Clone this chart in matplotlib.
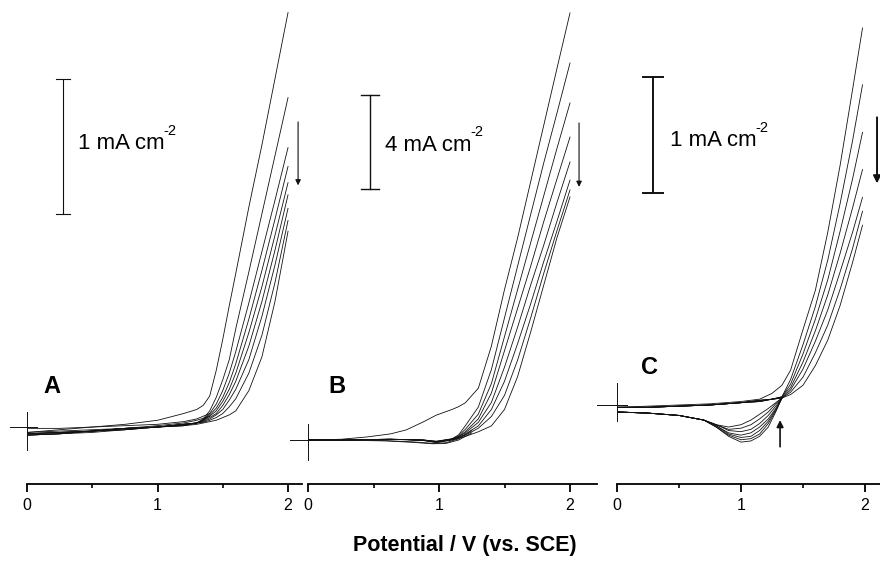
import matplotlib
matplotlib.use("Agg")
import matplotlib.pyplot as plt

plt.rcParams["font.family"] = ["Liberation Sans", "DejaVu Sans"]

# ---- panel A: potential grid (V) and current density (mA cm-2), one row per cycle
E_A = [0, 0.25, 0.5, 0.75, 1.0, 1.2, 1.3, 1.35, 1.4, 1.45, 1.5, 1.55, 1.6, 1.7, 1.8, 1.9, 2.0]
J_A = [
    [-0.04, -0.02, 0.00, 0.02, 0.05, 0.10, 0.13, 0.16, 0.23, 0.42, 0.65, 0.90, 1.14, 1.63, 2.09, 2.58, 3.07],
    [-0.05, -0.04, -0.03, -0.01, 0.00, 0.02, 0.03, 0.06, 0.12, 0.22, 0.35, 0.50, 0.73, 1.15, 1.58, 2.01, 2.44],
    [-0.06, -0.05, -0.03, -0.01, 0.00, 0.02, 0.03, 0.055, 0.10, 0.17, 0.27, 0.40, 0.56, 0.92, 1.30, 1.68, 2.07],
    [-0.05, -0.04, -0.03, -0.01, 0.00, 0.02, 0.03, 0.05, 0.09, 0.14, 0.22, 0.33, 0.47, 0.80, 1.16, 1.54, 1.93],
    [-0.06, -0.05, -0.03, -0.02, 0.00, 0.02, 0.03, 0.05, 0.08, 0.12, 0.19, 0.28, 0.40, 0.70, 1.04, 1.42, 1.81],
    [-0.05, -0.04, -0.03, -0.01, 0.00, 0.02, 0.03, 0.045, 0.07, 0.10, 0.16, 0.24, 0.34, 0.60, 0.93, 1.31, 1.72],
    [-0.06, -0.05, -0.04, -0.02, 0.00, 0.01, 0.03, 0.04, 0.06, 0.09, 0.13, 0.20, 0.28, 0.50, 0.82, 1.20, 1.62],
    [-0.05, -0.04, -0.03, -0.01, 0.00, 0.01, 0.03, 0.035, 0.05, 0.07, 0.10, 0.15, 0.21, 0.40, 0.68, 1.07, 1.53],
    [-0.06, -0.05, -0.03, -0.02, 0.00, 0.01, 0.02, 0.03, 0.04, 0.05, 0.07, 0.09, 0.12, 0.27, 0.52, 0.93, 1.45],
]
E_A_REV = [1.4, 1.3, 1.2, 1.0, 0.75, 0.5, 0.25, 0.0]
J_A_REV = [
    [0.10, 0.06, 0.04, 0.02, 0.01, 0.00, -0.01, -0.01],
    [0.08, 0.05, 0.03, 0.01, -0.01, -0.02, -0.03, -0.04],
]

# ---- panel B
E_B = [0, 0.25, 0.45, 0.63, 0.75, 0.88, 0.98, 1.1, 1.15, 1.2, 1.3, 1.4, 1.5, 1.6, 1.7, 1.8, 1.9, 2.0]
J_B = [
    [0.00, 0.03, 0.13, 0.26, 0.43, 0.77, 1.06, 1.30, 1.42, 1.58, 2.2, 4.0, 6.4, 8.6, 11.0, 13.4, 15.8, 18.17],
    [0.00, 0.00, 0.02, 0.03, 0.02, 0.00, -0.05, 0.05, 0.22, 0.60, 1.4, 3.0, 5.2, 7.4, 9.6, 11.8, 13.9, 16.04],
    [0.00, 0.00, 0.02, 0.03, 0.02, 0.00, -0.06, 0.05, 0.18, 0.45, 1.1, 2.4, 4.4, 6.4, 8.4, 10.4, 12.4, 14.34],
    [0.00, 0.00, 0.02, 0.03, 0.02, 0.00, -0.07, 0.04, 0.15, 0.35, 0.9, 2.0, 3.8, 5.6, 7.4, 9.3, 11.1, 12.89],
    [0.00, 0.00, 0.02, 0.03, 0.02, -0.01, -0.08, 0.03, 0.13, 0.30, 0.75, 1.6, 3.1, 4.8, 6.6, 8.3, 10.1, 11.83],
    [0.00, 0.00, 0.02, 0.03, 0.02, -0.01, -0.09, 0.02, 0.11, 0.25, 0.6, 1.3, 2.5, 4.1, 5.8, 7.6, 9.3, 11.06],
    [0.00, 0.00, 0.02, 0.03, 0.01, -0.02, -0.10, 0.01, 0.09, 0.20, 0.5, 1.0, 1.9, 3.4, 5.2, 7.1, 8.9, 10.64],
    [0.00, 0.00, 0.02, 0.03, 0.01, -0.02, -0.11, 0.00, 0.07, 0.15, 0.35, 0.6, 1.3, 2.7, 4.6, 6.6, 8.6, 10.34],
]
E_B_REV = [1.25, 1.15, 1.05, 0.95, 0.8, 0.6, 0.3, 0.0]
J_B_REV = [
    [0.40, 0.05, -0.12, -0.14, -0.08, -0.03, 0.00, 0.00],
    [0.30, 0.00, -0.15, -0.16, -0.10, -0.04, -0.01, 0.00],
]

# ---- panel C
E_C = [0, 0.25, 0.5, 0.75, 1.0, 1.15, 1.25, 1.33, 1.4, 1.5, 1.6, 1.7, 1.8, 1.9, 1.98]
J_C = [
    [-0.02, -0.01, 0.00, 0.01, 0.03, 0.05, 0.10, 0.17, 0.30, 0.65, 0.99, 1.49, 2.07, 2.72, 3.25],
    [-0.02, -0.02, -0.01, 0.00, 0.02, 0.04, 0.05, 0.07, 0.22, 0.52, 0.85, 1.25, 1.74, 2.28, 2.76],
    [-0.02, -0.02, -0.01, 0.00, 0.02, 0.04, 0.05, 0.07, 0.18, 0.44, 0.74, 1.08, 1.50, 1.95, 2.35],
    [-0.02, -0.02, -0.01, 0.00, 0.02, 0.04, 0.05, 0.07, 0.15, 0.37, 0.64, 0.95, 1.31, 1.70, 2.03],
    [-0.02, -0.02, -0.01, 0.00, 0.02, 0.03, 0.05, 0.06, 0.13, 0.31, 0.55, 0.82, 1.15, 1.49, 1.79],
    [-0.02, -0.02, -0.01, 0.00, 0.02, 0.03, 0.05, 0.06, 0.11, 0.24, 0.45, 0.69, 1.00, 1.35, 1.67],
    [-0.02, -0.02, -0.01, 0.00, 0.02, 0.03, 0.05, 0.06, 0.09, 0.17, 0.34, 0.56, 0.86, 1.23, 1.55],
]
E_C_REV = [1.33, 1.28, 1.22, 1.15, 1.08, 1.0, 0.9, 0.8, 0.7, 0.5, 0.25, 0.0]
J_C_REV = [
    [0.06, -0.06, -0.19, -0.27, -0.31, -0.32, -0.27, -0.19, -0.13, -0.09, -0.07, -0.06],
    [0.06, -0.05, -0.16, -0.25, -0.29, -0.30, -0.26, -0.19, -0.13, -0.09, -0.07, -0.06],
    [0.06, -0.04, -0.14, -0.22, -0.27, -0.28, -0.25, -0.18, -0.13, -0.09, -0.07, -0.06],
    [0.06, -0.03, -0.12, -0.19, -0.24, -0.26, -0.24, -0.18, -0.13, -0.09, -0.07, -0.06],
    [0.06, -0.01, -0.09, -0.16, -0.21, -0.23, -0.22, -0.17, -0.13, -0.09, -0.07, -0.06],
    [0.06, 0.01, -0.06, -0.12, -0.17, -0.20, -0.21, -0.17, -0.13, -0.09, -0.07, -0.06],
    [0.06, 0.02, -0.03, -0.08, -0.13, -0.17, -0.19, -0.17, -0.13, -0.09, -0.07, -0.06],
]

PANELS = ["A", "B", "C"]
SCALE_TEXT = ["1 mA cm", "4 mA cm", "1 mA cm"]
SCALE_SIZE = [1, 4, 1]

LINE = "#111111"


def style_axis(ax, xmax, ylim):
    ax.set_xlim(0, xmax)
    ax.set_ylim(*ylim)
    for side in ("top", "left", "right"):
        ax.spines[side].set_visible(False)
    ax.spines["bottom"].set_linewidth(1.3)
    ax.yaxis.set_visible(False)
    ax.set_xticks([0, 1, 2])
    ax.set_xticks([0.5, 1.5], minor=True)
    ax.tick_params(axis="x", which="major", direction="out", length=6, width=1.3,
                   labelsize=11.5, pad=4)
    ax.tick_params(axis="x", which="minor", direction="out", length=3, width=1.2)
    ax.patch.set_alpha(0)


def zero_marker(ax, x0, x1, ybot, ytop):
    ax.plot([x0, x1], [0, 0], color=LINE, lw=0.7, clip_on=False)
    ax.plot([0, 0], [ybot, ytop], color=LINE, lw=0.7, clip_on=False)


def scale_bar(ax, x, y0, size, cap, text, tx, ty, lw):
    ax.plot([x, x], [y0, y0 + size], color=LINE, lw=lw)
    ax.plot([x - cap, x + cap], [y0, y0], color=LINE, lw=lw)
    ax.plot([x - cap, x + cap], [y0 + size, y0 + size], color=LINE, lw=lw)
    label = ax.text(tx, ty, text, fontsize=16, ha="left", va="center")
    # the "-2" exponent, drawn small and raised right after "cm"
    ax.annotate("-2", xy=(1.0, 0.78), xycoords=label, xytext=(-1, 0),
                textcoords="offset points", fontsize=10.5, ha="left", va="bottom")


def arrow(ax, x, y_from, y_to, lw=0.8, scale=8):
    ax.annotate("", xy=(x, y_to), xytext=(x, y_from), annotation_clip=False,
                arrowprops=dict(arrowstyle="-|>", lw=lw, color=LINE, mutation_scale=scale,
                                shrinkA=0, shrinkB=0))


def main() -> None:
    fig = plt.figure(figsize=(8.8, 5.66), dpi=100)
    bottom = 1 - 484 / 566
    height = 484 / 566
    ax_a = fig.add_axes([27 / 880, bottom, 275 / 880, height])
    ax_b = fig.add_axes([308 / 880, bottom, 289 / 880, height])
    ax_c = fig.add_axes([617 / 880, bottom, 263 / 880, height])

    # panel A
    style_axis(ax_a, 2.107, (-0.422, 3.163))
    for row in J_A:
        ax_a.plot(E_A, row, color=LINE, lw=0.6)
    for row in J_A_REV:
        ax_a.plot(E_A_REV, row, color=LINE, lw=0.6)
    zero_marker(ax_a, -0.13, 0.08, -0.17, 0.11)
    scale_bar(ax_a, 0.276, 1.578, SCALE_SIZE[0], 0.057, SCALE_TEXT[0], 0.39, 2.10, 0.8)
    arrow(ax_a, 2.077, 2.26, 1.79)
    ax_a.text(0.19, 0.30, PANELS[0], fontsize=17, fontweight="bold", ha="center", va="center")

    # panel B
    style_axis(ax_b, 2.206, (-1.872, 18.72))
    for row in J_B:
        ax_b.plot(E_B, row, color=LINE, lw=0.6)
    for row in J_B_REV:
        ax_b.plot(E_B_REV, row, color=LINE, lw=0.6)
    zero_marker(ax_b, -0.14, 0.09, -0.85, 0.68)
    scale_bar(ax_b, 0.473, 10.68, SCALE_SIZE[1], 0.069, SCALE_TEXT[1], 0.588, 12.55, 1.0)
    arrow(ax_b, 2.069, 13.49, 10.77)
    ax_b.text(0.22, 2.26, PANELS[1], fontsize=17, fontweight="bold", ha="center", va="center")

    # panel C
    style_axis(ax_c, 2.121, (-0.681, 3.491))
    for row in J_C:
        ax_c.plot(E_C, row, color=LINE, lw=0.6)
    for row in J_C_REV:
        ax_c.plot(E_C_REV, row, color=LINE, lw=0.6)
    zero_marker(ax_c, -0.16, 0.08, -0.14, 0.19)
    scale_bar(ax_c, 0.29, 1.83, SCALE_SIZE[2], 0.08, SCALE_TEXT[2], 0.43, 2.28, 1.4)
    arrow(ax_c, 2.097, 2.48, 1.91, lw=1.4, scale=11)
    arrow(ax_c, 1.315, -0.36, -0.13, lw=1.2, scale=10)
    ax_c.text(0.266, 0.32, PANELS[2], fontsize=17, fontweight="bold", ha="center", va="center")

    fig.text(465 / 880, 1 - 545 / 566, "Potential / V (vs. SCE)", fontsize=15.5,
             fontweight="bold", ha="center", va="center")

    fig.savefig("out.png", dpi=100)
    plt.close(fig)


if __name__ == "__main__":
    main()
